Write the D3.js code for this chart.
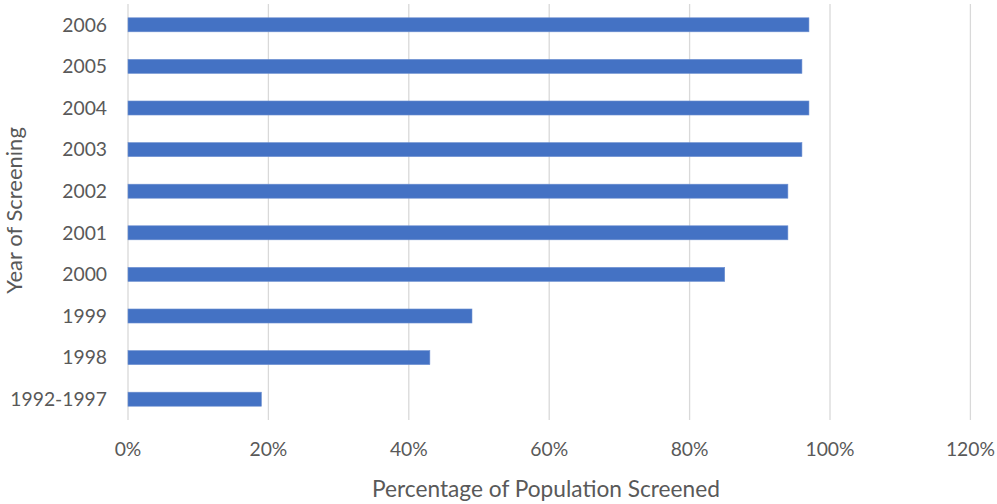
<!DOCTYPE html>
<html><head><meta charset="utf-8">
<script src="https://cdn.jsdelivr.net/npm/d3@7"></script>
<style>
html,body{margin:0;padding:0;background:#fff;}
svg text{font-family:Lato,"Open Sans",sans-serif;fill:#595959;}
</style></head>
<body>
<svg id="chart" width="997" height="504"></svg>
<script>
const categories = ["1992-1997","1998","1999","2000","2001","2002","2003","2004","2005","2006"];
const values = [0.19,0.43,0.49,0.85,0.94,0.94,0.96,0.97,0.96,0.97];
const xTicks = [0,0.2,0.4,0.6,0.8,1.0,1.2];
const xTitle = "Percentage of Population Screened";
const yTitle = "Year of Screening";

(function(){
const svg = d3.select("#chart");
const mLeft = 128, mRight = 970.4, mTop = 4, mBottom = 420;

const x = d3.scaleLinear().domain([0,1.2]).range([mLeft,mRight]);
const y = d3.scaleBand().domain(categories).range([mBottom, mTop]).paddingInner(0.663).paddingOuter(0.3315);

// gridlines
svg.append("g").selectAll("line").data(xTicks).join("line")
  .attr("x1", d=>x(d)).attr("x2", d=>x(d))
  .attr("y1", mTop).attr("y2", mBottom)
  .attr("stroke","#d9d9d9").attr("stroke-width",1.3);

// bars
svg.append("g").selectAll("rect").data(categories).join("rect")
  .attr("x", x(0))
  .attr("y", d=>y(d))
  .attr("width", (d,i)=>x(values[i])-x(0))
  .attr("height", y.bandwidth())
  .attr("fill","#4472C4")
  .attr("stroke","#6d8fd0").attr("stroke-width",0.6);

// x tick labels
svg.append("g").selectAll("text").data(xTicks).join("text")
  .attr("x", d=>x(d)).attr("y", 456)
  .attr("text-anchor","middle")
  .attr("font-size","19.3px")
  .text(d=>d3.format(".0%")(d));

// y tick labels
svg.append("g").selectAll("text").data(categories).join("text")
  .attr("x", 107).attr("y", d=>y(d)+y.bandwidth()/2)
  .attr("dy","0.35em")
  .attr("text-anchor","end")
  .attr("font-size","19.3px")
  .text(d=>d);

// axis titles
svg.append("text")
  .attr("x", 546).attr("y", 497)
  .attr("text-anchor","middle")
  .attr("font-size","22.7px")
  .text(xTitle);

svg.append("text")
  .attr("transform","translate(22,210.5) rotate(-90)")
  .attr("text-anchor","middle")
  .attr("font-size","22px")
  .text(yTitle);
})();
</script>
</body></html>
